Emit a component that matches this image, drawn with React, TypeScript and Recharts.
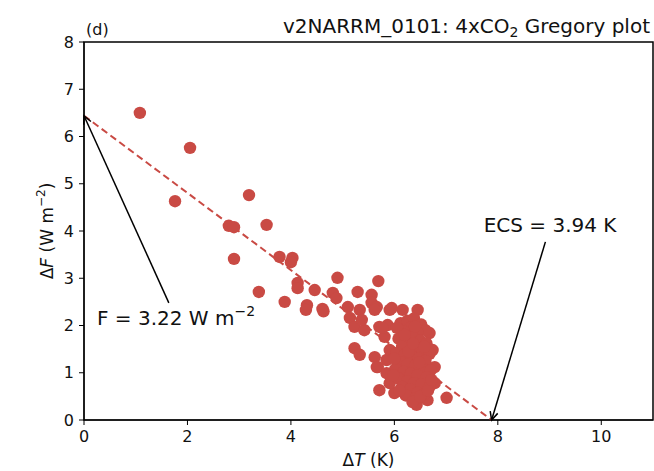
import {
  ScatterChart,
  Scatter,
  XAxis,
  YAxis,
  ReferenceLine,
  ReferenceDot,
  ReferenceArea,
} from 'recharts'

const RED = '#c94a44'
const FONT = 'DejaVu Sans, sans-serif'

// annual-mean global ΔT (K) and ΔF (W m-2)
const deltaT = [
  1.08, 2.05, 1.76, 3.19, 2.8, 2.9, 3.53, 2.9, 3.38, 3.78, 4.03, 4.0, 3.88, 4.13, 4.13, 4.31, 4.29, 4.46, 4.61, 4.63,
  4.9, 4.81, 4.88, 5.29, 5.69, 5.56, 5.56, 5.66, 5.1, 5.14, 5.33, 5.23, 5.42, 5.37, 5.71, 5.81, 5.23, 5.33, 5.62, 5.66,
  5.85, 5.91, 6.16, 6.45, 5.95, 5.62, 5.87, 5.77, 6.68, 6.74, 6.78, 6.78, 6.64, 6.43, 5.71, 6.0, 7.01, 5.68, 5.91, 5.85,
  5.91, 6.12, 6.25, 6.38, 6.52, 6.6, 6.3, 6.18, 6.45, 6.08, 6.22, 6.35, 6.5, 6.62, 6.28, 6.15, 6.42, 6.55, 6.68, 6.05,
  6.2, 6.33, 6.47, 6.6, 6.12, 6.26, 6.4, 6.55, 6.7, 6.02, 6.18, 6.32, 6.45, 6.62, 6.08, 6.25, 6.38, 6.52, 6.68, 6.15,
  6.3, 6.45, 6.58, 6.22, 6.4, 6.35, 6.5, 6.65, 6.72, 6.48, 6.58, 6.4, 6.05, 6.0, 5.98, 6.1, 6.28, 6.36, 6.2,
]
const deltaF = [
  6.5, 5.76, 4.63, 4.76, 4.11, 4.08, 4.13, 3.41, 2.71, 3.45, 3.43, 3.34, 2.5, 2.9, 2.79, 2.43, 2.33, 2.75, 2.35, 2.3,
  3.01, 2.69, 2.58, 2.71, 2.94, 2.65, 2.48, 2.39, 2.39, 2.16, 2.33, 1.97, 1.9, 2.12, 1.97, 1.76, 1.52, 1.38, 1.33, 1.12,
  1.27, 2.33, 2.33, 2.33, 2.37, 2.33, 2.01, 1.95, 1.84, 1.48, 1.12, 0.78, 0.42, 0.32, 0.63, 0.57, 0.47, 1.12, 1.48, 0.99,
  0.78, 2.05, 2.1, 2.15, 2.02, 1.9, 1.95, 1.88, 1.85, 1.72, 1.7, 1.76, 1.68, 1.62, 1.58, 1.55, 1.52, 1.45, 1.4, 1.42,
  1.38, 1.35, 1.3, 1.25, 1.22, 1.18, 1.15, 1.1, 1.05, 1.08, 1.02, 0.98, 0.95, 0.9, 0.88, 0.82, 0.78, 0.75, 0.7, 0.7,
  0.65, 0.58, 0.55, 0.52, 0.45, 0.38, 0.5, 0.62, 0.85, 1.22, 1.55, 1.98, 1.95, 1.3, 0.95, 0.62, 1.45, 1.62, 1.8,
]

// regression fit: ΔF intercept (2x F) and ΔT intercept (2x ECS)
const fitF0 = 6.44
const fitT0 = 7.88
const forcingLabel = '3.22'
const ecsLabel = '3.94'

const xTicks = [0, 2, 4, 6, 8, 10]
const yTicks = [0, 1, 2, 3, 4, 5, 6, 7, 8]

const points = deltaT.map((x, i) => ({ x, y: deltaF[i] }))

function Dot(p: any) {
  return <circle cx={p.cx} cy={p.cy} r={6.2} fill={RED} />
}

function Arrow(p: any) {
  const { x1, y1, x2, y2 } = p
  const a = Math.atan2(y2 - y1, x2 - x1)
  const L = 9
  const w = 0.45
  const ax1 = x2 - L * Math.cos(a - w)
  const ay1 = y2 - L * Math.sin(a - w)
  const ax2 = x2 - L * Math.cos(a + w)
  const ay2 = y2 - L * Math.sin(a + w)
  return (
    <g>
      <line x1={x1} y1={y1} x2={x2} y2={y2} stroke="#000" strokeWidth={1.5} />
      <polyline points={`${ax1},${ay1} ${x2},${y2} ${ax2},${ay2}`} fill="none" stroke="#000" strokeWidth={1.5} />
    </g>
  )
}

export default function App() {
  return (
    <div style={{ position: 'absolute', left: 0, top: 0, background: '#fff' }}>
      <ScatterChart width={654} height={471} margin={{ top: 42, right: 1, bottom: 21, left: 24 }}>
        <XAxis
          type="number"
          dataKey="x"
          domain={[0, 11]}
          ticks={xTicks}
          allowDataOverflow
          height={30}
          tickSize={5}
          tickMargin={6}
          stroke="#000"
          tick={{ fill: '#111', fontSize: 16, fontFamily: FONT }}
          label={{
            content: (lp: any) => {
              const vb = lp.viewBox
              return (
                <text x={vb.x + vb.width / 2} y={vb.y + 46} textAnchor="middle" fontSize={17} fontFamily={FONT} fill="#111">
                  Δ<tspan fontStyle="italic">T</tspan> (K)
                </text>
              )
            },
          }}
        />
        <YAxis
          type="number"
          dataKey="y"
          domain={[0, 8]}
          ticks={yTicks}
          allowDataOverflow
          width={60}
          tickSize={5}
          tickMargin={5}
          stroke="#000"
          tick={{ fill: '#111', fontSize: 16, fontFamily: FONT }}
          label={{
            content: (lp: any) => {
              const vb = lp.viewBox
              const cx = vb.x + 29
              const cy = vb.y + vb.height / 2
              return (
                <text transform={`translate(${cx},${cy}) rotate(-90)`} textAnchor="middle" fontSize={17} fontFamily={FONT} fill="#111">
                  Δ<tspan fontStyle="italic">F</tspan> (W m<tspan dy={-8} fontSize={12}>−2</tspan><tspan dy={8}>)</tspan>
                </text>
              )
            },
          }}
        />
        <ReferenceArea x1={0} x2={11} y1={0} y2={8} fill="none" stroke="#000" strokeWidth={1.5} ifOverflow="visible" />
        <ReferenceLine
          segment={[{ x: 0, y: fitF0 }, { x: fitT0, y: 0 }]}
          stroke={RED}
          strokeWidth={2}
          strokeDasharray="7 4"
          ifOverflow="visible"
        />
        <Scatter data={points} fill={RED} shape={Dot} isAnimationActive={false} />
        <ReferenceLine segment={[{ x: 1.64, y: 2.48 }, { x: 0, y: fitF0 }]} shape={Arrow} ifOverflow="visible" />
        <ReferenceLine segment={[{ x: 8.92, y: 3.77 }, { x: fitT0, y: 0 }]} shape={Arrow} ifOverflow="visible" />
        <ReferenceDot
          x={1.78}
          y={2.16}
          r={0}
          ifOverflow="visible"
          shape={(p: any) => (
            <text x={p.cx} y={p.cy + 7} textAnchor="middle" fontSize={20} fontFamily={FONT} fill="#111">
              F = {forcingLabel} W m<tspan dy={-9} fontSize={14}>−2</tspan>
            </text>
          )}
        />
        <ReferenceDot
          x={9.01}
          y={4.13}
          r={0}
          ifOverflow="visible"
          shape={(p: any) => (
            <text x={p.cx} y={p.cy + 7} textAnchor="middle" fontSize={20} fontFamily={FONT} fill="#111">
              ECS = {ecsLabel} K
            </text>
          )}
        />
        <ReferenceDot
          x={0}
          y={8}
          r={0}
          ifOverflow="visible"
          shape={(p: any) => (
            <text x={p.cx + 2} y={p.cy - 7} fontSize={16} fontFamily={FONT} fill="#111">
              (d)
            </text>
          )}
        />
        <ReferenceDot
          x={11}
          y={8}
          r={0}
          ifOverflow="visible"
          shape={(p: any) => (
            <text x={p.cx - 3} y={p.cy - 9} textAnchor="end" fontSize={20} fontFamily={FONT} fill="#111">
              v2NARRM_0101: 4xCO<tspan dy={4} fontSize={14}>2</tspan>
              <tspan dy={-4}> Gregory plot</tspan>
            </text>
          )}
        />
      </ScatterChart>
    </div>
  )
}
